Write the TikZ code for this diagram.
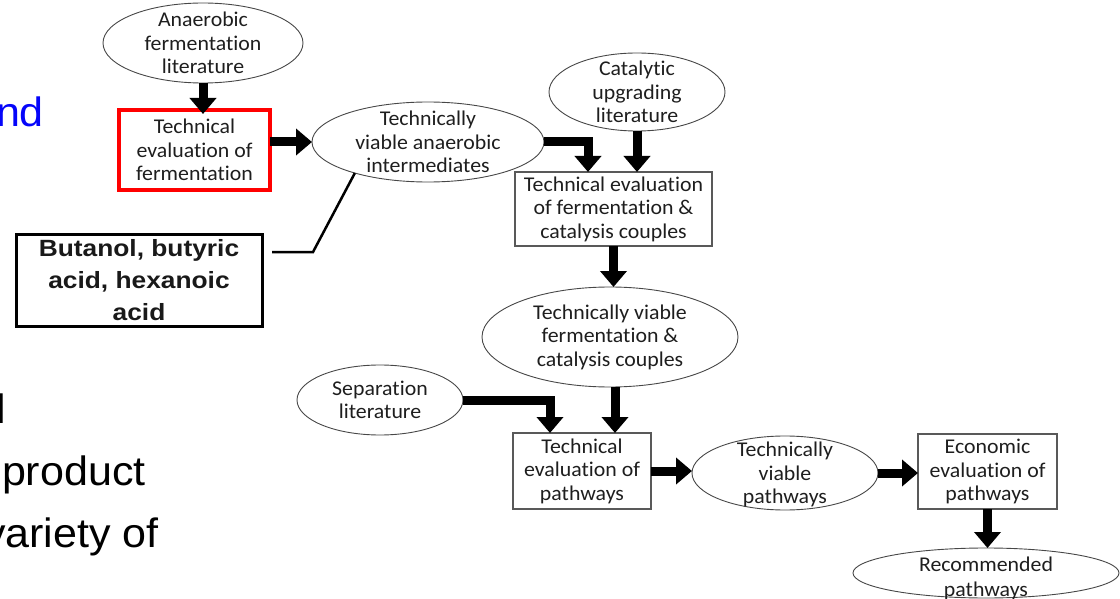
\documentclass[tikz,border=0pt]{standalone}
\usepackage{fontspec}
\setmainfont{Carlito}[FakeStretch=1.04, Ligatures={NoCommon,NoContextual}]
\newfontfamily\arialfont{Liberation Sans}[FakeStretch=1.05]
\newfontfamily\calloutfont{Liberation Sans}[FakeStretch=1.12]
\usetikzlibrary{arrows.meta,shapes.geometric,fit}
\definecolor{slideblue}{RGB}{5,5,250}
\definecolor{ink}{RGB}{30,30,30}
\begin{document}
\begin{tikzpicture}[x=1pt,y=-1pt,
  every node/.style={inner sep=0pt, outer sep=0pt},
  lbl/.style={font=\fontsize{21}{23.5}\selectfont, align=center, text=ink},
  oval/.style={ellipse, draw=black!72, line width=0.9pt},
  stepbox/.style={lbl, rectangle, draw=black!65, line width=1.1pt},
  fat/.style={line width=9pt, black, -{Triangle[width=26pt,length=16pt]}},
  side/.style={font=\arialfont\fontsize{41}{62}\selectfont, anchor=base west, text=black},
]
\useasboundingbox (0,0) rectangle (1120,599);

% slide text running behind the flowchart
\node[side, text=slideblue] (t-nd) at (-4,127) {nd};
\node[side] (t-l) at (-3,423) {l};
\node[side] (t-product) at (2,485) {product};
\node[side] (t-variety) at (-16,547) {variety of};

% literature sources and intermediate results (ellipses)
\node[oval, minimum width=200, minimum height=80] (ana) at (203,43) {};
\node[lbl] (ana-t) at (ana) {Anaerobic\\fermentation\\literature};
\node[oval, minimum width=232, minimum height=80] (inter) at (428,142) {};
\node[lbl] (inter-t) at (inter) {Technically\\viable anaerobic\\intermediates};
\node[oval, minimum width=176, minimum height=78] (cat) at (637,92) {};
\node[lbl] (cat-t) at (cat) {Catalytic\\upgrading\\literature};
\node[oval, minimum width=256, minimum height=100] (fcc) at (610,337) {};
\node[lbl] (fcc-t) at (fcc) {Technically viable\\fermentation \&\\catalysis couples};
\node[oval, minimum width=166, minimum height=70] (sep) at (380,400) {};
\node[lbl] (sep-t) at (sep) {Separation\\literature};
\node[oval, minimum width=186, minimum height=74] (tvp) at (785,473) {};
\node[lbl] (tvp-t) at ([yshift=-1.5pt]tvp.center) {Technically\\viable\\pathways};
\node[oval, minimum width=266, minimum height=50] (rec) at (986,573) {};
\node[lbl, font=\fontsize{21}{25}\selectfont] (rec-t) at ([yshift=-5pt]rec.center) {Recommended\\pathways};

% evaluation steps (boxes)
\node[stepbox, draw=black!55, line width=0.6pt, double, double distance=1.6pt,
      minimum width=143, minimum height=72] (box1) at (194.5,150)
      {Technical\\evaluation of\\fermentation};
\node[fit=(box1), inner sep=4pt, draw=red, line width=4pt] (hilite) {};
\node[stepbox, minimum width=197, minimum height=74] (box2) at (613.5,209)
      {Technical evaluation\\of fermentation \&\\catalysis couples};
\node[stepbox, minimum width=138, minimum height=76] (box3) at (582,471)
      {Technical\\evaluation of\\pathways};
\node[stepbox, minimum width=139, minimum height=75] (econ) at (987.5,471.5)
      {Economic\\evaluation of\\pathways};

% callout naming the intermediates
\node[draw=black, line width=3pt, minimum width=246, minimum height=92,
      align=center, text=black!90,
      font=\calloutfont\bfseries\fontsize{23.5}{32}\selectfont] (acids) at (139,280)
      {Butanol, butyric\\acid, hexanoic\\acid};
\coordinate (bend) at (313,252);
\coordinate (lead-end) at (272,252);
\draw[line width=2.5pt, black] (inter.203) -- (bend) -- (lead-end);

% flow arrows
\draw[fat] (ana.south) -- (ana.south |- box1.north);
\draw[fat] (inter.west -| hilite.east) -- (inter.west);
\draw[fat] (inter.east) -| ([xshift=-25.5pt]box2.north);
\draw[fat] (cat.south) -- (cat.south |- box2.north);
\draw[fat] (box2.south) -- (box2.south |- fcc.north);
\draw[fat] (sep.east) -| ([xshift=-32pt]box3.north);
\draw[fat] ([xshift=5pt]fcc.south) -- ([xshift=5pt]fcc.south |- box3.north);
\draw[fat] (box3.east) -- (box3.east -| tvp.west);
\draw[fat] (tvp.east) -- (tvp.east -| econ.west);
\draw[fat] (econ.south) -- (econ.south |- rec.north);
\end{tikzpicture}
\end{document}
